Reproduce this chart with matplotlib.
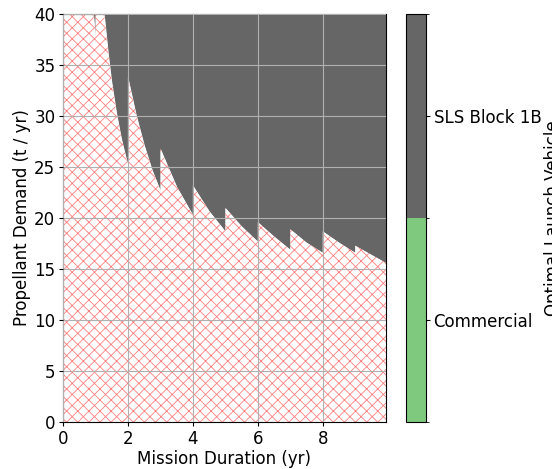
import matplotlib
matplotlib.use('Agg')
import matplotlib.pyplot as plt
from matplotlib.colors import ListedColormap, BoundaryNorm
from matplotlib.cm import ScalarMappable

# Boundary between the two launch options
duration = [0, 0.94, 1.0, 1.0, 1.27, 1.4, 1.5, 1.65, 1.8, 2.0,
            2.0, 2.25, 2.5, 2.75, 3.0, 3.0, 3.5, 4.0, 4.0, 4.5, 5.0,
            5.0, 5.5, 6.0, 6.0, 6.5, 7.0, 7.0, 7.5, 8.0,
            8.0, 8.5, 9.0, 9.0, 9.5, 9.95]
demand = [40, 40, 37.8, 40, 40, 36.0, 33.4, 30.3, 27.8, 25.2,
          33.8, 30.2, 27.2, 24.7, 22.7, 26.8, 23.1, 20.3, 23.2, 20.7, 18.7,
          21.0, 19.2, 17.7, 19.6, 18.2, 16.9, 18.9, 17.6, 16.6,
          18.7, 17.6, 16.6, 17.3, 16.4, 15.6]

vehicles = ['Commercial', 'SLS Block 1B']
vehicle_colors = ['#7fc97f', '#666666']

plt.rcParams['font.size'] = 12
plt.rcParams['hatch.linewidth'] = 0.6
plt.rcParams['xtick.major.pad'] = 2.5
plt.rcParams['ytick.major.pad'] = 2.5
plt.rcParams['xtick.major.size'] = 3
plt.rcParams['ytick.major.size'] = 3

fig = plt.figure(figsize=(5.52, 4.69), dpi=100)
ax = fig.add_axes([0.1141, 0.1002, 0.5852, 0.8699])
cax = fig.add_axes([0.7355, 0.1002, 0.0362, 0.8699])

# SLS region above boundary, hatched region below
ax.fill_between(duration, demand, 40, color=vehicle_colors[1], lw=0)
ax.fill_between(duration, 0, demand, facecolor='white',
                edgecolor=(1, 0, 0, 0.5), hatch='xxx', lw=0)

ax.set_xlim(0, 9.95)
ax.set_ylim(0, 40)
ax.set_xticks([0, 2, 4, 6, 8])
ax.set_yticks(range(0, 41, 5))
ax.grid(True)
ax.set_axisbelow(False)
ax.set_xlabel('Mission Duration (yr)', labelpad=2)
ax.set_ylabel('Propellant Demand (t / yr)', labelpad=2)

cmap = ListedColormap(vehicle_colors)
norm = BoundaryNorm([0, 0.5, 1], cmap.N)
cbar = fig.colorbar(ScalarMappable(norm=norm, cmap=cmap), cax=cax,
                    ticks=[0.25, 0.75])
cbar.ax.set_yticklabels(vehicles)
cbar.set_label('Optimal Launch Vehicle', labelpad=2)

fig.savefig('out.png', dpi=100)
